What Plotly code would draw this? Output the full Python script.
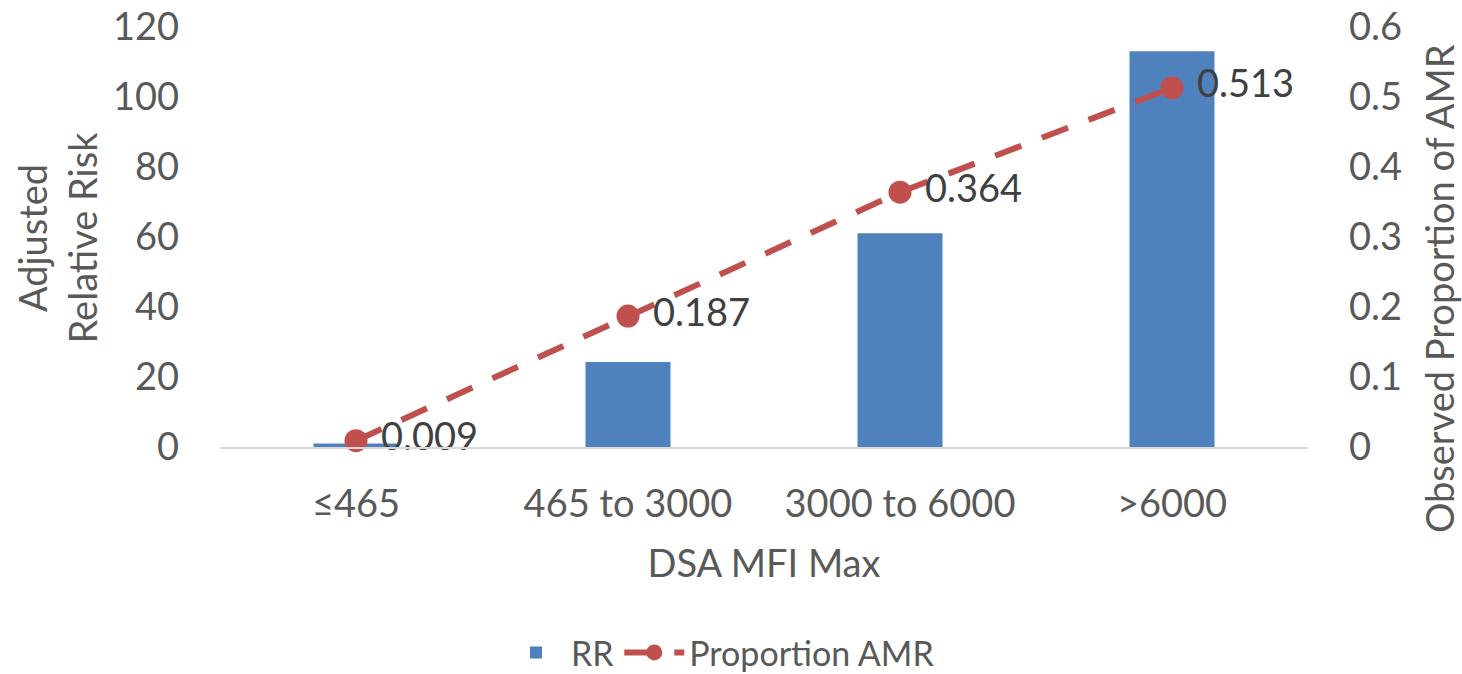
import plotly.graph_objects as go

categories = ["≤465", "465 to 3000", "3000 to 6000", ">6000"]
rr_values = [1.0, 24.3, 61.1, 113.1]
amr_values = [0.009, 0.187, 0.364, 0.513]
amr_labels = ["0.009", "0.187", "0.364", "0.513"]

FONT = "Lato"
TICK_COLOR = "#595959"
SIZE = 38

fig = go.Figure()
fig.add_trace(go.Bar(
    x=categories, y=rr_values, name="RR",
    marker=dict(color="#4F81BD", line=dict(width=0)),
    yaxis="y",
))
fig.add_trace(go.Scatter(
    x=categories, y=amr_values, name="Proportion AMR",
    mode="lines+markers+text",
    line=dict(color="#C0504D", width=6, dash="28px,22px"),
    marker=dict(color="#C0504D", size=23),
    text=amr_labels, texttemplate="\u2005%{text}", textposition="middle right",
    textfont=dict(family=FONT, size=SIZE, color="#404040"),
    yaxis="y2", cliponaxis=False,
))

fig.update_layout(
    width=1462, height=674,
    margin=dict(l=220, r=154, t=27, b=227, autoexpand=False),
    paper_bgcolor="white", plot_bgcolor="white",
    font=dict(family=FONT, size=SIZE, color=TICK_COLOR),
    bargap=0.6875,
    showlegend=True,
    legend=dict(orientation="h", x=0.46, y=-0.49, xanchor="center", yanchor="middle",
                font=dict(family=FONT, size=34, color=TICK_COLOR),
                itemwidth=60, tracegroupgap=0),
    xaxis=dict(type="category", showgrid=False, showline=True, linecolor="#D9D9D9", linewidth=2,
               ticks="", ticklabelstandoff=22,
               tickfont=dict(family=FONT, size=SIZE, color=TICK_COLOR),
               title=dict(text="DSA MFI Max", font=dict(family=FONT, size=SIZE, color=TICK_COLOR), standoff=27)),
    yaxis=dict(range=[0, 120], dtick=20, showgrid=False, zeroline=False, showline=False,
               ticks="", ticklabelstandoff=40,
               tickfont=dict(family=FONT, size=SIZE, color=TICK_COLOR)),
    yaxis2=dict(range=[0, 0.6], dtick=0.1, overlaying="y", side="right", showgrid=False,
                zeroline=False, showline=False, ticks="", ticklabelstandoff=40,
                tickformat="~g",
                tickfont=dict(family=FONT, size=SIZE, color=TICK_COLOR)),
    annotations=[
        dict(text="Adjusted<br>Relative Risk", xref="paper", yref="paper", x=-0.1503, y=0.5,
             textangle=-90, showarrow=False, xanchor="center", yanchor="middle",
             font=dict(family=FONT, size=SIZE, color=TICK_COLOR)),
        dict(text="Observed Proportion of AMR", xref="paper", yref="paper", x=1.1204, y=0.3786,
             textangle=-90, showarrow=False, xanchor="center", yanchor="middle",
             font=dict(family=FONT, size=SIZE, color=TICK_COLOR)),
    ],
)

fig.write_html("out.html")
